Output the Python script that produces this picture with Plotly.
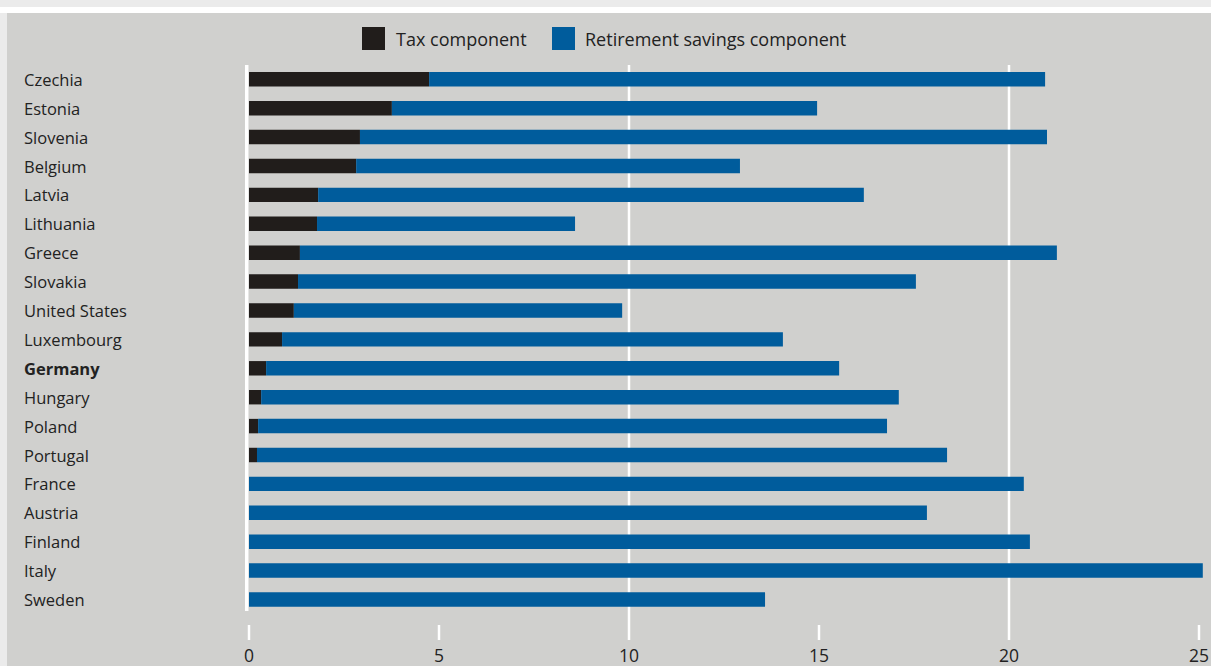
import plotly.graph_objects as go

countries = ["Czechia", "Estonia", "Slovenia", "Belgium", "Latvia", "Lithuania",
             "Greece", "Slovakia", "United States", "Luxembourg", "Germany",
             "Hungary", "Poland", "Portugal", "France", "Austria", "Finland",
             "Italy", "Sweden"]
tax_component = [4.74, 3.76, 2.92, 2.82, 1.82, 1.79, 1.34, 1.29, 1.18, 0.87,
                 0.45, 0.32, 0.24, 0.21, 0.0, 0.0, 0.0, 0.0, 0.0]
total = [20.95, 14.95, 21.0, 12.92, 16.18, 8.58, 21.26, 17.55, 9.82, 14.05,
         15.53, 17.1, 16.79, 18.37, 20.39, 17.84, 20.55, 25.1, 13.58]
retirement_component = [round(t - x, 2) for t, x in zip(total, tax_component)]
series_names = ["Tax component", "Retirement savings component"]
x_ticks = [0, 5, 10, 15, 20, 25]
full_grid = [10, 20]
highlight = "Germany"

TAX_COLOR = "#211d1b"
RET_COLOR = "#005c9c"
BG = "#d0d0ce"
TEXT = "#222222"
FONT = "Open Sans"

W, H = 1211, 666
ML, MR, MT, MB = 240, 0, 65, 26
PW, PH = W - ML - MR, H - MT - MB


def px_x(p):
    return (p - ML) / PW


def px_y(p):
    return (H - MB - p) / PH


rows = list(range(len(countries)))

fig = go.Figure()
fig.add_trace(go.Bar(
    y=rows, x=tax_component, base=0, orientation="h", name=series_names[0],
    marker=dict(color=TAX_COLOR, line=dict(width=0)), width=0.5, showlegend=False,
))
fig.add_trace(go.Bar(
    y=rows, x=retirement_component, base=tax_component, orientation="h",
    name=series_names[1],
    marker=dict(color=RET_COLOR, line=dict(width=0)), width=0.5, showlegend=False,
))

shapes = []
# header band and left edge strip
shapes.append(dict(type="rect", xref="paper", yref="paper", x0=px_x(0), x1=px_x(W),
                   y0=px_y(0), y1=px_y(7), fillcolor="#ebebeb", line_width=0, layer="below"))
shapes.append(dict(type="rect", xref="paper", yref="paper", x0=px_x(0), x1=px_x(W),
                   y0=px_y(7), y1=px_y(13), fillcolor="#ffffff", line_width=0, layer="below"))
shapes.append(dict(type="rect", xref="paper", yref="paper", x0=px_x(0), x1=px_x(7),
                   y0=px_y(13), y1=px_y(H), fillcolor="#ebebeb", line_width=0, layer="below"))

# full-height grid lines
for g in full_grid:
    shapes.append(dict(type="line", xref="x", yref="paper", x0=g, x1=g, y0=0, y1=1,
                       line=dict(color="white", width=2.5), layer="below"))
# zero line alongside the bars
shapes.append(dict(type="line", xref="x", yref="paper", x0=-0.06, x1=-0.06,
                   y0=px_y(611), y1=1, line=dict(color="white", width=3.5), layer="above"))
# short tick marks at the bottom
for t in x_ticks:
    if t in full_grid:
        continue
    shapes.append(dict(type="line", xref="x", yref="paper", x0=t, x1=t,
                       y0=0, y1=px_y(625), line=dict(color="white", width=2.5), layer="below"))

annotations = []
for i, c in enumerate(countries):
    label = f"<b>{c}</b>" if c == highlight else c
    annotations.append(dict(xref="paper", yref="y", x=px_x(22), y=i, xanchor="left",
                            yanchor="middle", text=label, showarrow=False,
                            font=dict(family=FONT, size=16.5, color=TEXT)))

# legend drawn as swatches and labels
legend_items = [(362, 394, TAX_COLOR, series_names[0]), (552, 583, RET_COLOR, series_names[1])]
for sx, tx, col, name in legend_items:
    shapes.append(dict(type="rect", xref="paper", yref="paper", x0=px_x(sx), x1=px_x(sx + 23),
                       y0=px_y(27), y1=px_y(50), fillcolor=col, line_width=0))
    annotations.append(dict(xref="paper", yref="paper", x=px_x(tx), y=px_y(39),
                            xanchor="left", yanchor="middle", text=name, showarrow=False,
                            font=dict(family=FONT, size=18, color=TEXT)))

fig.update_layout(
    width=W, height=H,
    margin=dict(l=ML, r=MR, t=MT, b=MB, pad=0),
    paper_bgcolor=BG, plot_bgcolor=BG,
    barmode="overlay",
    bargap=0.5,
    showlegend=False,
    shapes=shapes,
    annotations=annotations,
    font=dict(family=FONT, color=TEXT),
    xaxis=dict(range=[(ML - 249) / 38, (W - 249) / 38], tickvals=x_ticks,
               ticktext=[str(t) for t in x_ticks], showgrid=False, zeroline=False,
               showline=False, ticks="", tickfont=dict(family=FONT, size=17.5, color=TEXT),
               ticklabelstandoff=3, fixedrange=True),
    yaxis=dict(range=[(H - MB - 79.3) / 28.9, (MT - 79.3) / 28.9], showticklabels=False,
               showgrid=False, zeroline=False, showline=False, ticks="", fixedrange=True),
)

fig.write_html("out.html")
